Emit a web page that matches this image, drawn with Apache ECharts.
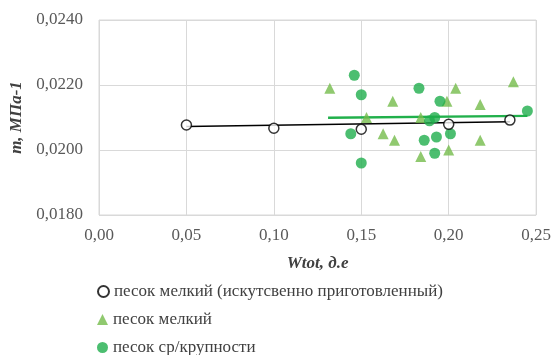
<!DOCTYPE html>
<html><head><meta charset="utf-8">
<script src="https://cdn.jsdelivr.net/npm/echarts@6/dist/echarts.min.js"></script>
<style>html,body{margin:0;padding:0;background:#fff}#c{width:554px;height:355px}</style>
</head><body><div id="c"></div>
<script>
const seriesNames = ['песок мелкий (искутсвенно приготовленный)', 'песок мелкий', 'песок ср/крупности'];
const artificialX = [0.05, 0.10, 0.15, 0.20, 0.235];
const artificialY = [0.02077, 0.02067, 0.02064, 0.02079, 0.02092];
const fineX = [0.132, 0.153, 0.1625, 0.168, 0.169, 0.184, 0.184, 0.199, 0.200, 0.204, 0.218, 0.218, 0.237];
const fineY = [0.0219, 0.0210, 0.0205, 0.0215, 0.0203, 0.0210, 0.0198, 0.0215, 0.0200, 0.0219, 0.0214, 0.0203, 0.0221];
const coarseX = [0.146, 0.150, 0.144, 0.150, 0.183, 0.195, 0.192, 0.189, 0.186, 0.193, 0.201, 0.192, 0.245];
const coarseY = [0.0223, 0.0217, 0.0205, 0.0196, 0.0219, 0.0215, 0.0210, 0.0209, 0.0203, 0.0204, 0.0205, 0.0199, 0.0212];
const blackTrendX = [0.05, 0.235];
const blackTrendY = [0.02072, 0.02087];
const greenTrendX = [0.131, 0.245];
const greenTrendY = [0.02099, 0.02105];
const xTicks = ['0,00','0,05','0,10','0,15','0,20','0,25'];
const yTicks = ['0,0180','0,0200','0,0220','0,0240'];

const zip = (xs, ys) => xs.map((x, i) => [x, ys[i]]);
const font = '"Liberation Serif", "DejaVu Serif", serif';
const legendIcons = ['circle', 'triangle', 'circle'];
const legendTops = [278, 306, 334];
const chart = echarts.init(document.getElementById('c'));
chart.setOption({
  animation: false,
  textStyle: { fontFamily: font },
  grid: { left: 99, right: 15, top: 20, bottom: 140, show: true, borderColor: '#d9d9d9', borderWidth: 1 },
  xAxis: {
    type: 'value', min: 0, max: 0.25, interval: 0.05,
    name: 'Wtot, д.е', nameLocation: 'middle', nameGap: 40,
    nameTextStyle: { fontFamily: font, fontSize: 17, fontWeight: 'bold', fontStyle: 'italic', color: '#404040' },
    axisLine: { show: false }, axisTick: { show: false },
    splitLine: { lineStyle: { color: '#d9d9d9' } },
    axisLabel: { fontSize: 17, color: '#595959', margin: 12,
      formatter: v => xTicks[Math.round(v / 0.05)] }
  },
  yAxis: {
    type: 'value', min: 0.018, max: 0.024, interval: 0.002,
    name: 'm, МПа-1', nameLocation: 'middle', nameGap: 58, nameRotate: 90,
    nameTextStyle: { fontFamily: font, fontSize: 17, fontWeight: 'bold', fontStyle: 'italic', color: '#404040' },
    axisLine: { show: false }, axisTick: { show: false },
    splitLine: { lineStyle: { color: '#d9d9d9' } },
    axisLabel: { fontSize: 17, color: '#595959', margin: 16,
      formatter: v => yTicks[Math.round((v - 0.018) / 0.002)] }
  },
  legend: seriesNames.map((n, i) => ({
    orient: 'vertical', left: 92, top: legendTops[i], itemGap: 0, itemWidth: 11, itemHeight: 11,
    textStyle: { fontFamily: font, fontSize: 17, color: '#404040' },
    data: [{ name: n, icon: legendIcons[i] }]
  })),
  series: [
    { type: 'line', data: zip(blackTrendX, blackTrendY), symbol: 'none', silent: true,
      lineStyle: { color: '#000', width: 1.5 }, z: 2 },
    { type: 'line', data: zip(greenTrendX, greenTrendY), symbol: 'none', silent: true,
      lineStyle: { color: '#21b04b', width: 2.5 }, z: 2 },
    { name: seriesNames[1], type: 'scatter', data: zip(fineX, fineY), symbol: 'triangle', symbolSize: 11,
      itemStyle: { color: '#74bb4b' }, z: 3 },
    { name: seriesNames[2], type: 'scatter', data: zip(coarseX, coarseY), symbol: 'circle', symbolSize: 11,
      itemStyle: { color: '#1fae4c' }, z: 4 },
    { name: seriesNames[0], type: 'scatter', data: zip(artificialX, artificialY), symbol: 'circle', symbolSize: 10,
      itemStyle: { color: '#fff', borderColor: '#000', borderWidth: 1.5 }, z: 5 }
  ]
});
</script></body></html>
